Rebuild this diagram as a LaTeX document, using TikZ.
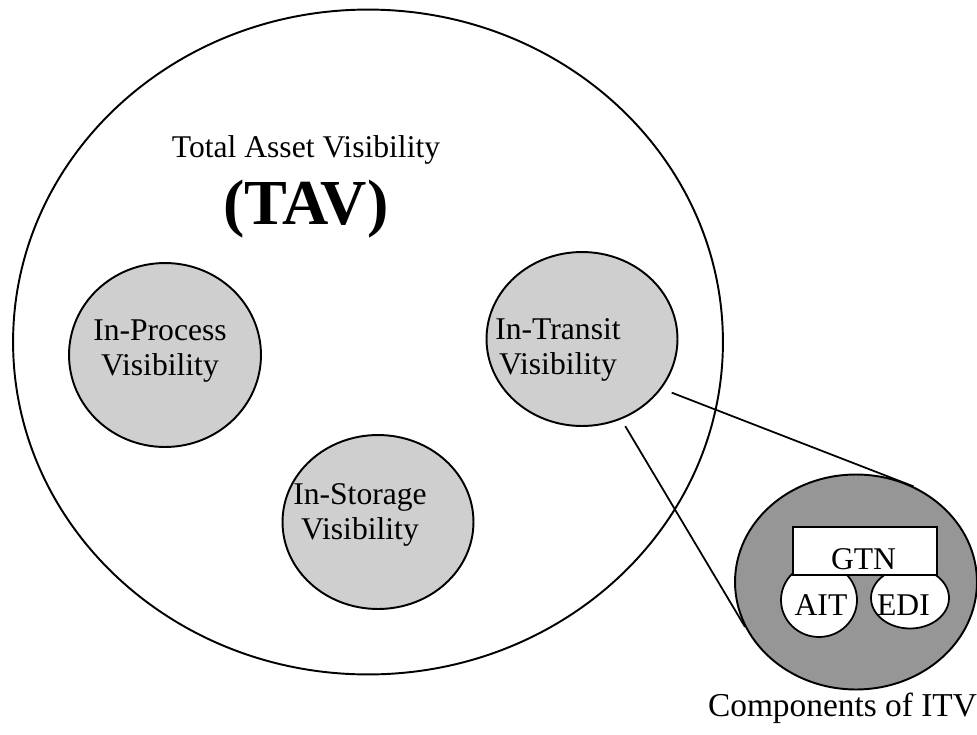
\documentclass[tikz,border=0pt]{standalone}
\usepackage{fontspec}
\setmainfont{Liberation Serif}
\usepackage{tikz}
\usetikzlibrary{shapes,positioning,calc}

\begin{document}
\begin{tikzpicture}[x=0.02cm, y=-0.02cm,
  area/.style={ellipse, draw, line width=1.1pt, inner sep=0pt},
  view/.style={area, fill=black!19},
  part/.style={area, fill=white, line width=1pt},
  vistext/.style={align=center, inner sep=0pt, font=\fontsize{18}{20}\selectfont},
  zoomline/.style={line width=1pt}
]
\useasboundingbox (0,0) rectangle (977,734);
\node[area, minimum width=14.2cm, minimum height=13.3cm] (tav) at (368,342) {};
\node[view, minimum width=3.84cm, minimum height=3.68cm] (process) at (165,355) {};
\node[view, minimum width=3.82cm, minimum height=3.48cm] (storage) at (378,522) {};
\node[view, minimum width=3.82cm, minimum height=3.48cm] (transit) at (582,339) {};
\node[vistext] (tavname) at (306,150) {Total Asset Visibility};
\node[vistext, font=\fontsize{36.5}{40}\selectfont\bfseries, below=0.3cm of tavname] (tavshort) {(TAV)};
\node[vistext] (processtext) at ($(process)+(-5,-4)$) {In-Process\\Visibility};
\node[vistext] (storagetext) at ($(storage)+(-18,-7)$) {In-Storage\\Visibility};
\node[vistext] (transittext) at ($(transit)+(-24,11)$) {In-Transit\\Visibility};
\node[area, fill=black!41, minimum width=4.84cm, minimum height=4.3cm] (itv) at (856,582) {};
\draw[zoomline, shorten <=6.2pt] (transit.-32.8) -- (itv.59.6);
\draw[zoomline, shorten <=4.5pt] (transit.-64.8) -- (itv.202.9);
\node[part, minimum width=1.52cm, minimum height=1.48cm] (ait) at (819,600) {};
\node[part, minimum width=1.56cm, minimum height=1.22cm] (edi) at (910,598) {};
\node[rectangle, draw, fill=white, line width=1pt, minimum width=2.88cm, minimum height=0.96cm] (gtn) at (865,551) {};
\node[vistext] (gtntext) at (863.5,559.5) {GTN};
\node[vistext] (aittext) at (821,605) {AIT};
\node[vistext] (editext) at (903.5,605) {EDI};
\node[vistext, font=\fontsize{19}{20}\selectfont] (itvname) at (842.5,708.5) {Components of ITV};
\end{tikzpicture}
\end{document}
